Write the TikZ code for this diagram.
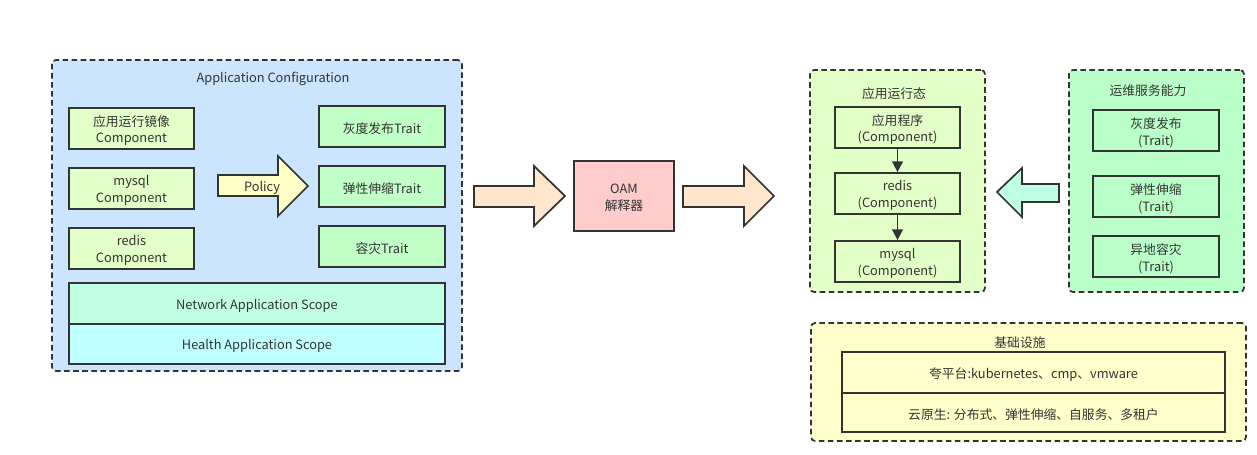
\documentclass[tikz,border=0pt]{standalone}
\usepackage{fontspec}
\setmainfont{Noto Sans CJK SC}
\usetikzlibrary{fit,arrows.meta}
\definecolor{ink}{HTML}{333333}
\definecolor{cpanel}{HTML}{CCE5FF}
\definecolor{ccomp}{HTML}{E2FFC8}
\definecolor{ctrait}{HTML}{C0FFC6}
\definecolor{cnet}{HTML}{C0FFE4}
\definecolor{chealth}{HTML}{C0FFFF}
\definecolor{cpolicy}{HTML}{FFFFC8}
\definecolor{corange}{HTML}{FFE6CC}
\definecolor{coam}{HTML}{FFCCCC}
\definecolor{crun}{HTML}{E2FFC8}
\definecolor{cops}{HTML}{BAFFC9}
\definecolor{cbase}{HTML}{FFFFCC}
\definecolor{cmint}{HTML}{BDFFE4}
\tikzset{
  panel/.style={draw=ink, line width=1.3pt, dash pattern=on 4.2pt off 2.6pt, rounded corners=3pt, inner sep=0pt},
  box/.style={draw=ink, line width=1.3pt, inner sep=0pt},
  label/.style={inner sep=0pt, align=center, text=ink, yshift=-1.6pt, font=\fontsize{9.6}{12.6}\selectfont},
  blockarrow/.style={draw=ink, line width=1.3pt, line join=miter},
  flow/.style={draw=ink, line width=1.3pt, -{Triangle[length=8pt,width=8pt]}}
}
\begin{document}
\begin{tikzpicture}[x=0.75pt,y=-0.75pt]
\useasboundingbox (0,0) rectangle (1257,454);
% left panel
\node[panel, fill=cpanel, fit={(52,60)(462,371)}] (appcfg) {};
\node[label] (appcfgt) at (273,77) {Application Configuration};
\node[box, fill=ccomp, fit={(69,108)(194,149)}] (c1) {};
\node[label] at (c1.center) {应用运行镜像\\Component};
\node[box, fill=ccomp, fit={(69,168)(194,209)}] (c2) {};
\node[label] at (c2.center) {mysql\\Component};
\node[box, fill=ccomp, fit={(69,228)(194,269)}] (c3) {};
\node[label] at (c3.center) {redis\\Component};
\node[box, fill=ctrait, fit={(319,106)(445,147)}] (t1) {};
\node[label] at (t1.center) {灰度发布Trait};
\node[box, fill=ctrait, fit={(319,166)(445,207)}] (t2) {};
\node[label] at (t2.center) {弹性伸缩Trait};
\node[box, fill=ctrait, fit={(319,226)(445,267)}] (t3) {};
\node[label] at (t3.center) {容灾Trait};
\node[box, fill=cnet, fit={(69,283)(445,324)}] (net) {};
\node[label] at (net.center) {Network Application Scope};
\node[box, fill=chealth, fit={(69,324)(445,364)}] (health) {};
\node[label] at (health.center) {Health Application Scope};
% policy arrow
\draw[blockarrow, fill=cpolicy] (218,175) -- (278,175) -- (278,156) -- (308,186) -- (278,216) -- (278,196) -- (218,196) -- cycle;
\node[label] (policy) at (262,186) {Policy};
% orange arrows and OAM
\draw[blockarrow, fill=corange] (474,186) -- (534,186) -- (534,166) -- (565,196) -- (534,226) -- (534,207) -- (474,207) -- cycle;
\node[box, fill=coam, fit={(574,161)(674,231)}] (oam) {};
\node[label] at (oam.center) {OAM\\解释器};
\draw[blockarrow, fill=corange] (683,186) -- (744,186) -- (744,166) -- (774,196) -- (744,226) -- (744,207) -- (683,207) -- cycle;
% runtime panel
\node[panel, fill=crun, fit={(810,70)(985,292)}] (run) {};
\node[label] (runt) at (894,91) {应用运行态};
\node[box, fill=crun, fit={(835,107)(960,148)}] (r1) {};
\node[label] at (r1.center) {应用程序\\(Component)};
\node[box, fill=crun, fit={(835,173)(960,214)}] (r2) {};
\node[label] at (r2.center) {redis\\(Component)};
\node[box, fill=crun, fit={(835,241)(960,282)}] (r3) {};
\node[label] at (r3.center) {mysql\\(Component)};
\draw[flow] (r1) -- (r2);
\draw[flow] (r2) -- (r3);
% ops panel
\node[panel, fill=cops, fit={(1069,70)(1244,292)}] (ops) {};
\node[label] (opst) at (1148,89) {运维服务能力};
\node[box, fill=cops, fit={(1093,110)(1219,151)}] (o1) {};
\node[label] at (o1.center) {灰度发布\\(Trait)};
\node[box, fill=cops, fit={(1093,176)(1219,217)}] (o2) {};
\node[label] at (o2.center) {弹性伸缩\\(Trait)};
\node[box, fill=cops, fit={(1093,236)(1219,277)}] (o3) {};
\node[label] at (o3.center) {异地容灾\\(Trait)};
% left-pointing arrow
\draw[blockarrow, fill=cmint] (1059,184) -- (1022,184) -- (1022,168) -- (997,192) -- (1022,217) -- (1022,202) -- (1059,202) -- cycle;
% base panel
\node[panel, fill=cbase, fit={(811,323)(1246,441)}] (base) {};
\node[label] (baset) at (1020,341) {基础设施};
\node[box, fill=cbase, fit={(842,352)(1225,393)}] (b1) {};
\node[label] at (b1.center) {夸平台:kubernetes、cmp、vmware};
\node[box, fill=cbase, fit={(842,393)(1225,432)}] (b2) {};
\node[label] at (b2.center) {云原生: 分布式、弹性伸缩、自服务、多租户};
\end{tikzpicture}
\end{document}
